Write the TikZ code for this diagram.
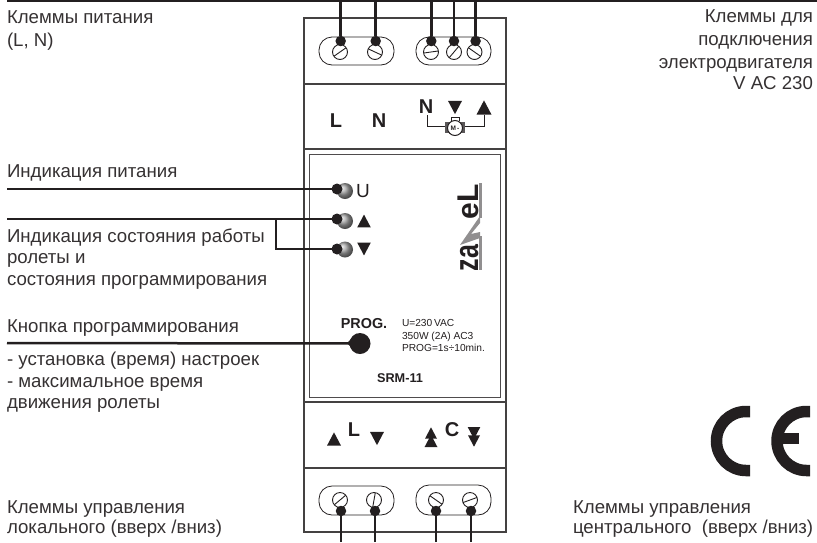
\documentclass[tikz,border=0pt]{standalone}
\usepackage{fontspec}
\setmainfont{Liberation Sans}
\usetikzlibrary{calc}
\definecolor{ink}{HTML}{231F20}
\tikzset{
 every node/.style={inner sep=0pt,outer sep=0pt,text=ink},
 lab/.style={anchor=base west,font=\fontsize{18.65}{20}\selectfont,text=ink!92},
 labr/.style={anchor=base east,font=\fontsize{18.65}{20}\selectfont,text=ink!92},
 wire/.style={draw=ink,line width=2.5pt},
 vwire/.style={draw=ink,line width=2.8pt},
 thinw/.style={draw=ink,line width=1pt},
 frame/.style={draw=ink!85,line width=1.3pt},
 slot/.style={draw=ink,line width=.8pt,rounded corners=13pt},
 blob/.style={circle,fill=ink,minimum size=10.5pt},
 dark/.style={circle,fill=ink,minimum size=11pt},
 screw/.style={circle,draw=ink,line width=.9pt,fill=white,minimum size=15pt},
 led/.style={circle,minimum size=16pt,shading=ball,ball color=gray!70},
 bigb/.style={font=\fontsize{20}{22}\selectfont\bfseries},
}
\newcommand{\upT}[3]{\fill[ink] (#1-#3,#2+#3*.95) -- (#1,#2-#3*.95) -- (#1+#3,#2+#3*.95) -- cycle;}
\newcommand{\dnT}[3]{\fill[ink] (#1-#3,#2-#3*.95) -- (#1,#2+#3*.95) -- (#1+#3,#2-#3*.95) -- cycle;}
\newcommand{\scr}[4]{\node[screw] (#1) at (#2,#3) {};
 \draw[ink,line width=.9pt] ($(#1)+(#4:7.3pt)$) -- ($(#1)+(#4+180:7.3pt)$);}
\begin{document}
\begin{tikzpicture}[x=1pt,y=-1pt]
\useasboundingbox (0,0) rectangle (817,542);
% device
\draw[frame] (304,18) rectangle (506,532);
\draw[frame] (304,84) -- (506,84);
\draw[frame] (304,149) -- (506,149);
\draw[frame] (304,402) -- (506,402);
\draw[frame] (304,468) -- (506,468);
\draw[draw=ink!80,line width=1pt] (309,154) rectangle (500,397);
% slots
\draw[slot] (319,37) rectangle (394,65);
\draw[slot] (416,37) rectangle (491,65);
\draw[slot] (319,486) rectangle (394,515);
\draw[slot] (416,485) rectangle (491,515);
% screws
\scr{s1}{340}{52}{35}
\scr{s2}{375}{52}{-25}
\scr{s3}{431}{52}{8}
\scr{s4}{454}{52}{50}
\scr{s5}{474.5}{52}{-35}
\scr{b1}{340}{500}{40}
\scr{b2}{374}{500}{80}
\scr{b3}{436}{500}{-35}
\scr{b4}{470}{500}{20}
% connectors
\coordinate (t1) at (340.7,0); \coordinate (t2) at (375.7,0); \coordinate (t3) at (431.3,0); \coordinate (t4) at (454,0); \coordinate (t5) at (475.6,0);
\coordinate (d1) at (341,542); \coordinate (d2) at (375,542); \coordinate (d3) at (436,542); \coordinate (d4) at (471,542);
\node[blob] (p1) at (340.7,41) {};
\node[blob] (p2) at (375.7,41) {};
\node[blob] (p3) at (431.3,41) {};
\node[blob] (p4) at (454,41) {};
\node[blob] (p5) at (475.6,41) {};
\node[blob] (q1) at (341,511) {};
\node[blob] (q2) at (375,511) {};
\node[blob] (q3) at (436,511) {};
\node[blob] (q4) at (471,511) {};
\draw[vwire] (t1)--(p1); \draw[vwire] (t2)--(p2); \draw[vwire] (t3)--(p3); \draw[vwire] (t4)--(p4); \draw[vwire] (t5)--(p5);
\draw[vwire] (d1)--(q1); \draw[vwire] (d2)--(q2); \draw[vwire] (d3)--(q3); \draw[vwire] (d4)--(q4);
\coordinate (tl) at (7,.8); \coordinate (tr) at (817,.8);
\draw[draw=ink,line width=2pt] (tl)--(tr);
% upper panel
\node[bigb] (L1) at (336,121) {L};
\node[bigb] (N1) at (379,121) {N};
\node[bigb] (N2) at (426,107) {N};
\dnT{455}{107.5}{7}
\upT{484}{107.5}{7.5}
\coordinate (mw1) at (427,115); \coordinate (mw2) at (484,115);
\draw[thinw] (mw1) |- (455,126.5) -| (mw2);
\fill[ink!75] (445,122) rectangle (449,133);
\fill[ink!75] (461,122) rectangle (465,133);
\draw[ink,line width=.9pt] (451,121) -- (451,117.5) -- (459,117.5) -- (459,121);
\node[circle,draw=ink,line width=1pt,fill=white,minimum size=15pt,font=\fontsize{6.5}{7}\selectfont\bfseries] (mot) at (455,128) {M\,-};
% LEDs
\node[led] (u) at (345,191) {};
\node[led] (up) at (345,221) {};
\node[led] (dn) at (345,249.5) {};
\node[dark] (ud) at (337,189) {};
\node[dark] (upd) at (337,219) {};
\node[dark] (dnd) at (337,249) {};
\coordinate (l1) at (7,189); \coordinate (l2) at (7,219); \coordinate (l3) at (276,219);
\draw[wire] (l1) -- (ud);
\draw[wire] (l2) -- (upd);
\draw[draw=ink,line width=2pt] (l3) |- (dnd);
\node[font=\fontsize{19}{20}\selectfont] (ut) at (363,191) {U};
\upT{364}{221}{6.8}
\dnT{364}{249}{6.8}
% logo
\fill[ink!50] (460,245) -- (480,216) -- (480,223) -- (471,234) -- (480,232) -- (480,238) -- cycle;
\draw[ink!50,line width=2.2pt] (480.5,183) -- (480.5,218);
\draw[ink!50,line width=2.2pt] (480.5,236) -- (480.5,270);
\node[rotate=90,anchor=base west,font=\fontsize{25}{26}\selectfont\bfseries] (za) at (478,271) {\scalebox{1}[1.35]{za}};
\node[rotate=90,anchor=base west,font=\fontsize{30}{30}\selectfont\bfseries] (el) at (478,219) {eL};
% PROG
\node[font=\fontsize{14.4}{16}\selectfont\bfseries] (pt) at (364,324) {PROG.};
\node[circle,fill=ink,minimum size=21pt] (prog) at (360,343.5) {};
\fill[ink] (347,343) -- (357,333.5) -- (357,353.5) -- cycle;
\coordinate (l4) at (7,343);
\draw[wire] (l4) -- (prog);
\node[anchor=base west,font=\fontsize{10.2}{12}\selectfont] (s1t) at (402,326) {U=230\,VAC};
\node[anchor=base west,font=\fontsize{10.2}{12}\selectfont] (s2t) at (402,339) {350W (2A) AC3};
\node[anchor=base west,font=\fontsize{10.2}{12}\selectfont] (s3t) at (402,351) {PROG=1s÷10min.};
\node[font=\fontsize{12.7}{14}\selectfont\bfseries] (srm) at (400,378) {SRM-11};
% lower panel
\upT{334}{439}{7}
\node[bigb] (L2) at (354,429.5) {L};
\dnT{377}{438.5}{7}
\upT{431}{433}{6}\upT{431}{441}{6.5}
\node[bigb] (C2) at (452,429.5) {C};
\dnT{474}{433}{6.3}\dnT{474}{441}{6}
% CE
\draw[ink,line width=11.5pt] (750,411.5) -- (746,411.5) arc (270:90:29.5) -- (750,470.5);
\draw[ink,line width=11.5pt] (810,411.5) -- (806.5,411.5) arc (270:90:29.5) -- (810,470.5);
\fill[ink] (775,433) rectangle (799,444);
% labels
\node[lab] (a1) at (7,23) {Клеммы питания};
\node[lab] (a2) at (7,46) {(L, N)};
\node[labr] (c1) at (813,22.7) {Клеммы для};
\node[labr] (c2) at (813,45) {подключения};
\node[labr] (c3) at (813,68) {электродвигателя};
\node[labr] (c4) at (813,89) {V AC 230};
\node[lab] (a3) at (7,177) {Индикация питания};
\node[lab] (a4) at (7,242) {Индикация состояния работы};
\node[lab] (a5) at (7,263) {ролеты и};
\node[lab] (a6) at (7,285) {состояния программирования};
\node[lab] (a7) at (7,332) {Кнопка программирования};
\node[lab] (a8) at (7,365) {- установка (время) настроек};
\node[lab] (a9) at (7,387) {- максимальное время};
\node[lab] (a10) at (7,408) {движения ролеты};
\node[lab] (a11) at (7,513) {Клеммы управления};
\node[lab] (a12) at (7,533) {локального (вверх /вниз)};
\node[lab] (a13) at (573,513) {Клеммы управления};
\node[lab] (a14) at (573,533) {центрального\ \ (вверх /вниз)};
\end{tikzpicture}
\end{document}
